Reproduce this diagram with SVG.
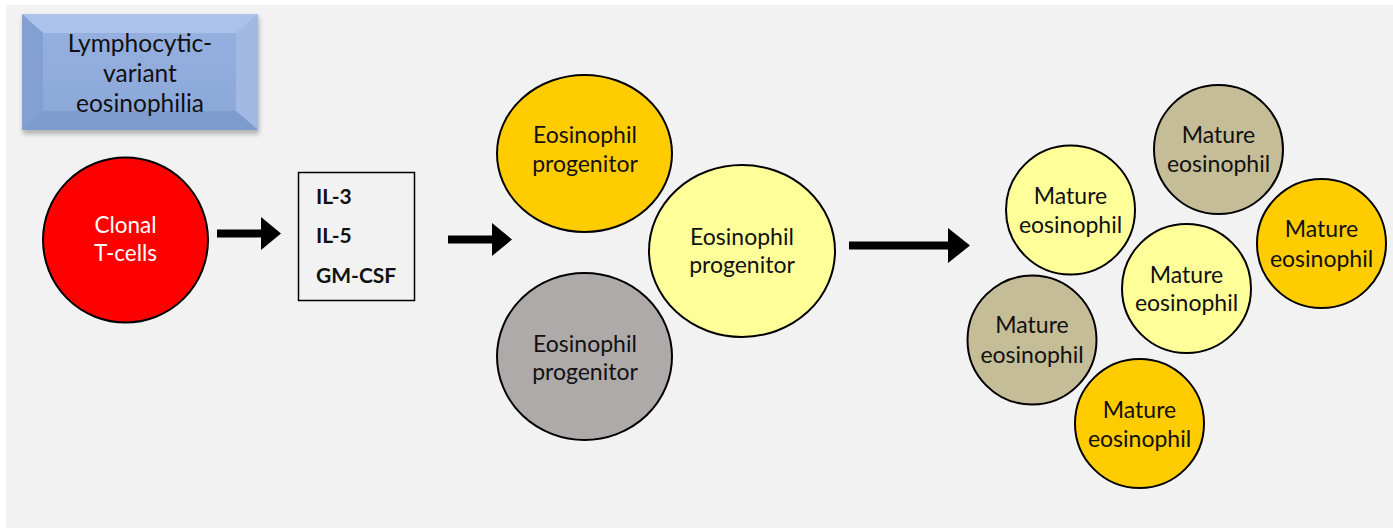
<svg xmlns="http://www.w3.org/2000/svg" width="1393" height="530" viewBox="0 0 1393 530">
<defs>
<style>
.t{font-family:Lato,"Open Sans","Liberation Sans",sans-serif;font-size:23px;fill:#111;text-anchor:middle}
.w{fill:#fff;font-size:22.5px}
.b{font-weight:bold;text-anchor:start;font-size:21px}
.c{stroke:#000;stroke-width:2}
.arr{fill:#000}
</style>
<linearGradient id="face" x1="0" y1="0" x2="0" y2="1">
<stop offset="0" stop-color="#97b1e0"/>
<stop offset="1" stop-color="#8aa7d9"/>
</linearGradient>
<filter id="sh" x="-10%" y="-10%" width="120%" height="130%">
<feGaussianBlur stdDeviation="2.5"/>
</filter>
</defs>
<rect x="0" y="0" width="1393" height="530" fill="#fff"/>
<rect x="6" y="5" width="1387" height="523" fill="#f2f2f2"/>

<g id="title">
<rect x="23" y="17" width="236" height="117" fill="#7a7a7a" opacity="0.55" filter="url(#sh)"/>
<rect x="22" y="14" width="236" height="116" fill="url(#face)"/>
<polygon points="22,14 258,14 236,33 43,33" fill="#abc2ea"/>
<polygon points="22,14 43,33 43,111 22,130" fill="#84a0d2"/>
<polygon points="258,14 236,33 236,111 258,130" fill="#a2b9e4"/>
<polygon points="22,130 43,111 236,111 258,130" fill="#7e9bce"/>
<text class="t" x="140" y="52" style="font-size:24.5px">Lymphocytic-</text>
<text class="t" x="140" y="82" style="font-size:24.5px">variant</text>
<text class="t" x="140" y="112" style="font-size:24.5px">eosinophilia</text>
</g>

<g id="clonal">
<circle class="c" cx="125.5" cy="240" r="82.5" fill="#ff0000"/>
<text class="t w" x="125.5" y="233">Clonal</text>
<text class="t w" x="125.5" y="261">T-cells</text>
</g>

<g id="cytokines">
<rect x="298.5" y="172.5" width="116" height="128" fill="none" stroke="#000" stroke-width="1.5"/>
<text class="t b" x="316" y="204">IL-3</text>
<text class="t b" x="316" y="243">IL-5</text>
<text class="t b" x="316" y="283">GM-CSF</text>
</g>

<g id="prog1">
<ellipse class="c" cx="584.5" cy="153.5" rx="87.5" ry="78.5" fill="#ffcc00"/>
<text class="t" x="585" y="143">Eosinophil</text>
<text class="t" x="585" y="172">progenitor</text>
</g>
<g id="prog2">
<ellipse class="c" cx="742" cy="251" rx="93" ry="86" fill="#ffff99"/>
<text class="t" x="742" y="245">Eosinophil</text>
<text class="t" x="742" y="273">progenitor</text>
</g>
<g id="prog3">
<ellipse class="c" cx="584.5" cy="356.5" rx="87.5" ry="83.5" fill="#aeaaaa"/>
<text class="t" x="585" y="352">Eosinophil</text>
<text class="t" x="585" y="380">progenitor</text>
</g>

<g id="mature1">
<circle class="c" cx="1070.5" cy="210" r="64.5" fill="#ffff99"/>
<text class="t" x="1070.5" y="204">Mature</text>
<text class="t" x="1070.5" y="233">eosinophil</text>
</g>
<g id="mature2">
<circle class="c" cx="1218.5" cy="149.5" r="64.5" fill="#c4bd97"/>
<text class="t" x="1218.5" y="143">Mature</text>
<text class="t" x="1218.5" y="172">eosinophil</text>
</g>
<g id="mature3">
<circle class="c" cx="1321.5" cy="243.5" r="64.5" fill="#ffcc00"/>
<text class="t" x="1321.5" y="237">Mature</text>
<text class="t" x="1321.5" y="267">eosinophil</text>
</g>
<g id="mature4">
<circle class="c" cx="1186.5" cy="288.5" r="64.5" fill="#ffff99"/>
<text class="t" x="1186.5" y="283">Mature</text>
<text class="t" x="1186.5" y="311">eosinophil</text>
</g>
<g id="mature5">
<circle class="c" cx="1032" cy="340" r="64.5" fill="#c4bd97"/>
<text class="t" x="1032" y="333">Mature</text>
<text class="t" x="1032" y="363">eosinophil</text>
</g>
<g id="mature6">
<circle class="c" cx="1139.5" cy="423.5" r="64.5" fill="#ffcc00"/>
<text class="t" x="1139.5" y="418">Mature</text>
<text class="t" x="1139.5" y="447">eosinophil</text>
</g>

<g id="connectors">
<polygon class="arr" points="217,229.5 261,229.5 261,217 281,233.5 261,250 261,237.5 217,237.5"/>
<polygon class="arr" points="448,235.5 492,235.5 492,223 512,239.5 492,256 492,243.5 448,243.5"/>
<polygon class="arr" points="849,241.5 948,241.5 948,228 970,245.5 948,263 948,249.5 849,249.5"/>
</g>
</svg>
